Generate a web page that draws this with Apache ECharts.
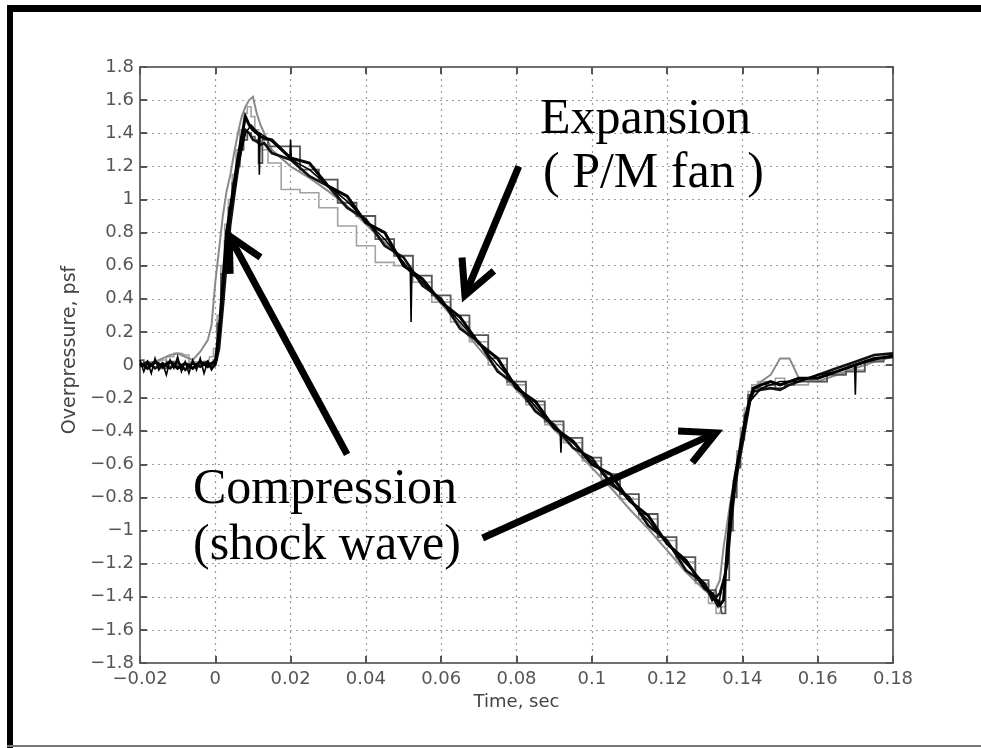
<!DOCTYPE html>
<html>
<head>
<meta charset="utf-8">
<script src="https://cdn.jsdelivr.net/npm/echarts@6/dist/echarts.min.js"></script>
<style>
  html, body { margin: 0; padding: 0; background: #fff; }
  #chart { width: 981px; height: 748px; }
</style>
</head>
<body>
<div id="chart"></div>
<script>
// Shared sample times (s) for the recorded sonic-boom signatures
const timeGrid = [
  -0.02, -0.018, -0.016, -0.014, -0.012, -0.01, -0.008, -0.006, -0.004, -0.002, -0.001, 0,
  0.001, 0.002, 0.003, 0.004, 0.005, 0.006, 0.007, 0.008, 0.009, 0.01, 0.011, 0.012, 0.013,
  0.015, 0.02, 0.025, 0.03, 0.035, 0.04, 0.045, 0.05, 0.055, 0.06, 0.065, 0.07, 0.075, 0.08,
  0.085, 0.09, 0.095, 0.1, 0.105, 0.11, 0.115, 0.12, 0.125, 0.13,
  0.132, 0.134, 0.135, 0.136, 0.137, 0.138, 0.139, 0.14, 0.141, 0.142, 0.143, 0.145,
  0.1475, 0.15, 0.1525, 0.155, 0.16, 0.165, 0.17, 0.175, 0.18
];

// Overpressure (psf) of each recording on timeGrid
const traceA = [
  0.01, -0.02, 0.02, -0.01, 0.02, -0.02, 0.01, -0.02, 0.02, -0.01, 0.01, 0.02,
  0.2, 0.5, 0.8, 0.95, 1.1, 1.25, 1.38, 1.5, 1.45, 1.42, 1.4, 1.38, 1.37,
  1.36, 1.25, 1.22, 1.08, 1.02, 0.86, 0.8, 0.6, 0.52, 0.38, 0.29, 0.13, 0.04, -0.14,
  -0.22, -0.38, -0.46, -0.6, -0.66, -0.82, -0.91, -1.08, -1.18, -1.35,
  -1.38, -1.45, -1.42, -1.1, -0.85, -0.68, -0.55, -0.42, -0.3, -0.2, -0.14, -0.12,
  -0.1, -0.12, -0.1, -0.08, -0.08, -0.04, 0.0, 0.04, 0.05
];
const traceB = [
  -0.01, 0.02, -0.02, 0.01, -0.02, 0.02, -0.03, 0.01, -0.01, 0.02, -0.02, 0.0,
  0.1, 0.35, 0.62, 0.85, 1.02, 1.18, 1.32, 1.42, 1.4, 1.36, 1.35, 1.33, 1.34,
  1.28, 1.24, 1.14, 1.08, 0.95, 0.88, 0.72, 0.65, 0.48, 0.4, 0.22, 0.14, -0.04, -0.12,
  -0.28, -0.36, -0.5, -0.56, -0.72, -0.8, -0.97, -1.06, -1.24, -1.32,
  -1.42, -1.38, -1.3, -1.2, -0.95, -0.75, -0.6, -0.48, -0.35, -0.22, -0.16, -0.15,
  -0.14, -0.15, -0.12, -0.1, -0.06, -0.02, 0.02, 0.06, 0.07
];
const traceC = [
  0.0, 0.01, 0.02, 0.04, 0.06, 0.07, 0.05, 0.03, 0.08, 0.15, 0.24, 0.5,
  0.7, 0.9, 1.05, 1.15, 1.28, 1.4, 1.5, 1.56, 1.6, 1.62, 1.52, 1.45, 1.4,
  1.3, 1.2, 1.13, 1.05, 0.96, 0.85, 0.74, 0.62, 0.5, 0.37, 0.24, 0.1, -0.03, -0.15,
  -0.27, -0.39, -0.5, -0.62, -0.74, -0.87, -0.99, -1.12, -1.25, -1.36,
  -1.4, -1.3, -1.1, -0.95, -0.8, -0.68, -0.56, -0.45, -0.33, -0.22, -0.15, -0.1,
  -0.06, 0.04, 0.04, -0.08, -0.1, -0.06, -0.02, 0.02, 0.05
];
const traceD = [
  0.01, 0.0, 0.02, 0.03, 0.05, 0.07, 0.06, 0.02, 0.01, 0.0, 0.05, 0.1,
  0.3, 0.6, 0.85, 1.0, 1.15, 1.3, 1.42, 1.52, 1.56, 1.5, 1.42, 1.35, 1.3,
  1.22, 1.06, 1.04, 0.95, 0.84, 0.72, 0.62, 0.6, 0.5, 0.38, 0.26, 0.14, 0.0, -0.12,
  -0.24, -0.36, -0.47, -0.58, -0.7, -0.81, -0.93, -1.06, -1.19, -1.32,
  -1.44, -1.5, -1.46, -1.2, -0.9, -0.7, -0.52, -0.38, -0.26, -0.16, -0.12, -0.1,
  -0.12, -0.08, -0.1, -0.12, -0.1, -0.05, -0.03, 0.03, 0.06
];
const traceE = [
  0.03, 0.0, 0.01, -0.02, 0.02, 0.0, -0.02, 0.01, 0.0, 0.02, 0.0, 0.03,
  0.25, 0.55, 0.75, 0.95, 1.1, 1.2, 1.3, 1.36, 1.4, 1.38, 1.36, 1.22, 1.36,
  1.32, 1.32, 1.18, 1.12, 0.98, 0.9, 0.76, 0.66, 0.54, 0.42, 0.3, 0.18, 0.04, -0.1,
  -0.22, -0.34, -0.44, -0.56, -0.66, -0.78, -0.9, -1.04, -1.16, -1.3,
  -1.36, -1.42, -1.5, -1.3, -1.0, -0.8, -0.62, -0.45, -0.3, -0.18, -0.14, -0.14,
  -0.12, -0.14, -0.12, -0.1, -0.1, -0.06, -0.04, 0.02, 0.05
];

// One recording sampled on its own times, with short dropout spikes
const traceFTime = [
  -0.02, -0.019, -0.018, -0.017, -0.016, -0.015, -0.014, -0.013, -0.012, -0.011,
  -0.01, -0.009, -0.008, -0.007, -0.006, -0.005, -0.004, -0.003, -0.002, -0.001,
  0, 0.002, 0.004, 0.006, 0.008, 0.0095,
  0.0115, 0.0117, 0.0119, 0.015, 0.0198, 0.02, 0.0202, 0.025, 0.03, 0.035,
  0.04, 0.045, 0.05, 0.0518, 0.052, 0.0522, 0.055, 0.06, 0.065, 0.07,
  0.075, 0.08, 0.085, 0.09, 0.0916, 0.0918, 0.092, 0.095, 0.1, 0.105,
  0.11, 0.115, 0.12, 0.125, 0.13, 0.1335, 0.136, 0.138, 0.14, 0.142,
  0.145, 0.15, 0.155, 0.16, 0.165, 0.1698, 0.17, 0.1702, 0.175, 0.18
];
const traceF = [
  0.03, -0.04, 0.02, -0.05, 0.04, -0.03, 0.01, -0.06, 0.03, -0.02,
  0.05, -0.04, 0.02, -0.05, 0.03, -0.03, 0.04, -0.05, 0.02, -0.03,
  0.01, 0.45, 0.92, 1.2, 1.4, 1.45,
  1.4, 1.15, 1.4, 1.35, 1.25, 1.36, 1.24, 1.18, 1.08, 0.99,
  0.87, 0.76, 0.62, 0.56, 0.26, 0.55, 0.5, 0.38, 0.26, 0.13,
  0.0, -0.12, -0.25, -0.38, -0.4, -0.53, -0.41, -0.47, -0.58, -0.7,
  -0.82, -0.94, -1.08, -1.2, -1.32, -1.46, -1.2, -0.7, -0.45, -0.22,
  -0.14, -0.1, -0.1, -0.06, -0.04, 0.0, -0.18, 0.0, 0.03, 0.06
];

// Annotation arrows: tail and tip in (time, overpressure)
const arrowShock = [[0.035, -0.54], [0.0037, 0.78]];
const arrowExpansion = [[0.0806, 1.2], [0.0663, 0.42]];
const arrowRecompression = [[0.071, -1.045], [0.133, -0.41]];

const pairs = (ts, ps) => ts.map((t, i) => [t, ps[i]]);

const fmt = (v, d) => String(+v.toFixed(d)).replace('-', '\u2212');

const tickFont = { color: '#555', fontSize: 18, fontFamily: 'DejaVu Sans' };
const frameColor = '#707070';
const gridLine = { show: true, lineStyle: { color: '#9c9c9c', width: 1.2, type: [2, 4] } };

function lineSeries(data, color, width, step) {
  return {
    type: 'line', data: data, symbol: 'none', silent: true,
    step: step || false,
    lineStyle: { color: color, width: width, join: 'miter' },
    animation: false
  };
}

const chart = echarts.init(document.getElementById('chart'), null, { renderer: 'canvas' });

chart.setOption({
  backgroundColor: '#fff',
  animation: false,
  grid: { left: 140, right: 88, top: 67, bottom: 85 },
  xAxis: [
    {
      type: 'value', min: -0.02, max: 0.18, interval: 0.02, position: 'bottom',
      axisLine: { show: true, onZero: false, lineStyle: { color: frameColor, width: 2 } },
      axisTick: { show: true, inside: true, length: 7, lineStyle: { color: '#555', width: 2 } },
      axisLabel: Object.assign({ margin: 7, formatter: v => fmt(v, 2) }, tickFont),
      splitLine: gridLine,
      name: 'Time, sec', nameLocation: 'middle', nameGap: 20,
      nameTextStyle: { color: '#444', fontSize: 18, fontFamily: 'DejaVu Sans' }
    },
    {
      type: 'value', min: -0.02, max: 0.18, interval: 0.02, position: 'top',
      axisLine: { show: true, onZero: false, lineStyle: { color: frameColor, width: 2 } },
      axisTick: { show: true, inside: true, length: 7, lineStyle: { color: '#555', width: 2 } },
      axisLabel: { show: false }, splitLine: { show: false }
    }
  ],
  yAxis: [
    {
      type: 'value', min: -1.8, max: 1.8, interval: 0.2, position: 'left',
      axisLine: { show: true, onZero: false, lineStyle: { color: frameColor, width: 2 } },
      axisTick: { show: true, inside: true, length: 7, lineStyle: { color: '#555', width: 2 } },
      axisLabel: Object.assign({ margin: 6, formatter: v => fmt(v, 1) }, tickFont),
      splitLine: gridLine,
      name: 'Overpressure, psf', nameLocation: 'middle', nameGap: 58, nameRotate: 90,
      nameTextStyle: { color: '#444', fontSize: 19, fontFamily: 'DejaVu Sans', padding: [0, 0, 0, 30] }
    },
    {
      type: 'value', min: -1.8, max: 1.8, interval: 0.2, position: 'right',
      axisLine: { show: true, onZero: false, lineStyle: { color: frameColor, width: 2 } },
      axisTick: { show: true, inside: true, length: 7, lineStyle: { color: '#555', width: 2 } },
      axisLabel: { show: false }, splitLine: { show: false }
    }
  ],
  series: [
    lineSeries(pairs(timeGrid, traceD), '#a2a2a2', 1.6, 'middle'),
    lineSeries(pairs(timeGrid, traceC), '#8a8a8a', 2),
    lineSeries(pairs(timeGrid, traceE), '#555', 1.8, 'middle'),
    lineSeries(pairs(timeGrid, traceB), '#111', 2.6),
    lineSeries(pairs(timeGrid, traceA), '#000', 3),
    lineSeries(pairs(traceFTime, traceF), '#000', 1.6)
  ]
});

// Frame, captions and arrows
function arrowShapes(arrow) {
  const tail = chart.convertToPixel({ gridIndex: 0 }, arrow[0]);
  const tip = chart.convertToPixel({ gridIndex: 0 }, arrow[1]);
  const ang = Math.atan2(tail[1] - tip[1], tail[0] - tip[0]);
  const arm = 38, spread = 27 * Math.PI / 180;
  const a1 = [tip[0] + arm * Math.cos(ang + spread), tip[1] + arm * Math.sin(ang + spread)];
  const a2 = [tip[0] + arm * Math.cos(ang - spread), tip[1] + arm * Math.sin(ang - spread)];
  const st = { stroke: '#000', lineWidth: 7, fill: null, lineJoin: 'miter', lineCap: 'butt' };
  return [
    { type: 'polyline', shape: { points: [tail, tip] }, style: st, z: 100 },
    { type: 'polyline', shape: { points: [a1, tip, a2] }, style: st, z: 100 }
  ];
}

const serif = '50px "Liberation Serif", "Times New Roman", serif';
const caption = (text, x, y) => ({
  type: 'text', x: x, y: y, z: 100,
  style: { text: text, font: serif, fill: '#000', align: 'left', verticalAlign: 'middle' }
});

chart.setOption({
  graphic: [
    { type: 'rect', shape: { x: 7, y: 5, width: 974, height: 7 }, style: { fill: '#000' }, z: 100 },
    { type: 'rect', shape: { x: 7, y: 5, width: 6, height: 743 }, style: { fill: '#000' }, z: 100 },
    { type: 'rect', shape: { x: 7, y: 745, width: 974, height: 2 }, style: { fill: '#777' }, z: 100 },
    caption('Expansion', 540, 120),
    caption('( P/M fan )', 543, 174),
    caption('Compression', 193, 490),
    caption('(shock wave)', 193, 546)
  ].concat(arrowShapes(arrowShock), arrowShapes(arrowExpansion), arrowShapes(arrowRecompression))
});
</script>
</body>
</html>
